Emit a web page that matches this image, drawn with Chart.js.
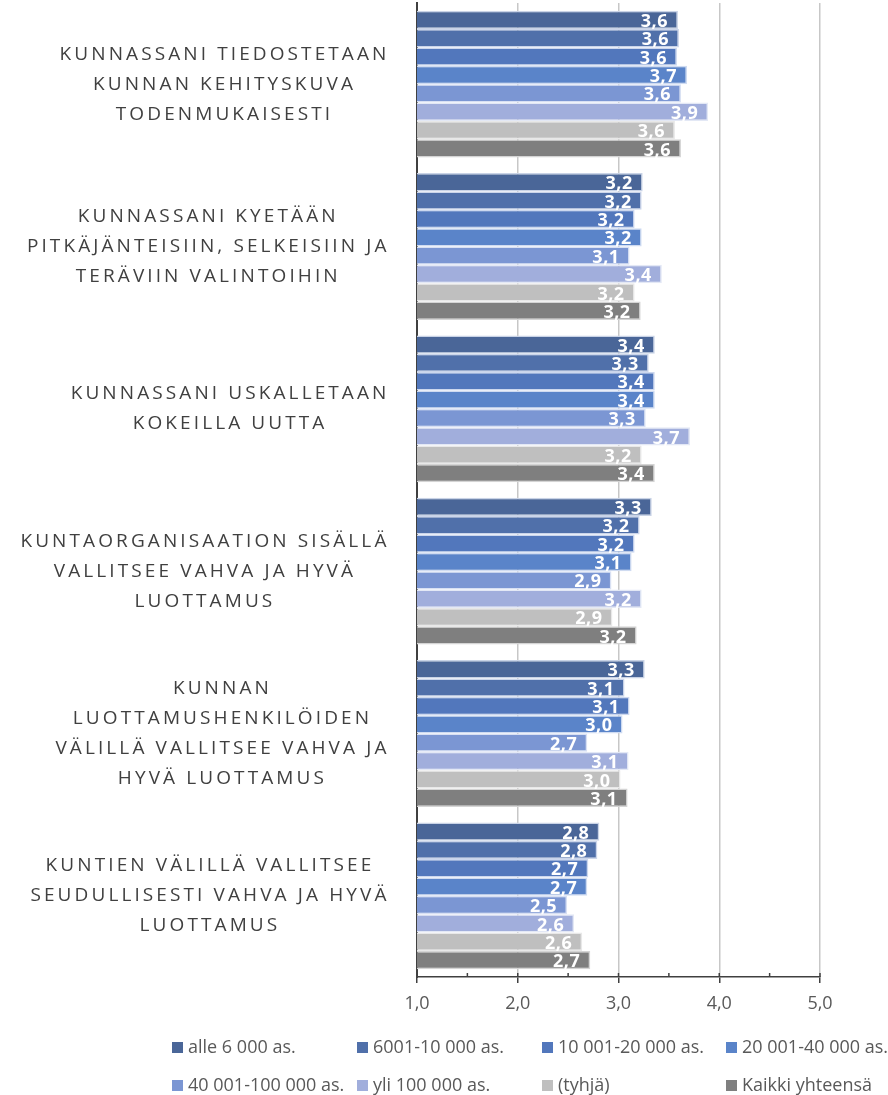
<!DOCTYPE html>
<html>
<head>
<meta charset="utf-8">
<script src="https://cdn.jsdelivr.net/npm/chart.js@4.4.1/dist/chart.umd.min.js"></script>
<style>
  html, body { margin: 0; padding: 0; background: #ffffff; }
  #wrap { width: 888px; height: 1095px; position: relative; }
</style>
</head>
<body>
<div id="wrap"><canvas id="barChart"></canvas></div>
<script>
// --- dados ---
const categorias = [
    ['KUNNASSANI TIEDOSTETAAN', 'KUNNAN KEHITYSKUVA', 'TODENMUKAISESTI'],
    ['KUNNASSANI KYETÄÄN', 'PITKÄJÄNTEISIIN, SELKEISIIN JA', 'TERÄVIIN VALINTOIHIN'],
    ['KUNNASSANI USKALLETAAN', 'KOKEILLA UUTTA'],
    ['KUNTAORGANISAATION SISÄLLÄ', 'VALLITSEE VAHVA JA HYVÄ', 'LUOTTAMUS'],
    ['KUNNAN', 'LUOTTAMUSHENKILÖIDEN', 'VÄLILLÄ VALLITSEE VAHVA JA', 'HYVÄ LUOTTAMUS'],
    ['KUNTIEN VÄLILLÄ VALLITSEE', 'SEUDULLISESTI VAHVA JA HYVÄ', 'LUOTTAMUS']
];

const nomesSeries = ['alle 6 000 as.', '6001-10 000 as.', '10 001-20 000 as.', '20 001-40 000 as.',
                     '40 001-100 000 as.', 'yli 100 000 as.', '(tyhjä)', 'Kaikki yhteensä'];

const alle6000   = [3.59, 3.24, 3.36, 3.33, 3.26, 2.81];
const v6001      = [3.60, 3.23, 3.30, 3.21, 3.06, 2.79];
const v10001     = [3.58, 3.16, 3.36, 3.16, 3.11, 2.70];
const v20001     = [3.68, 3.23, 3.36, 3.13, 3.04, 2.69];
const v40001     = [3.62, 3.11, 3.27, 2.93, 2.69, 2.49];
const yli100000  = [3.89, 3.43, 3.71, 3.23, 3.10, 2.56];
const tyhja      = [3.56, 3.16, 3.23, 2.94, 3.02, 2.64];
const kaikki     = [3.62, 3.22, 3.36, 3.18, 3.09, 2.72];

const tickValores = [1, 2, 3, 4, 5];

const cores = ['#4A6698', '#5070AA', '#5277BC', '#5A84C9', '#7B96D3', '#A1AEDC', '#BFBFBF', '#7F7F7F'];
const bordas = ['#C9D3E6', '#CBD5EA', '#CCD7EE', '#CFDBF1', '#D8E0F3', '#E3E8F5', '#E8E8E8', '#D4D4D4'];

const todasSeries = [alle6000, v6001, v10001, v20001, v40001, yli100000, tyhja, kaikki];

const fmt = v => v.toFixed(1).replace('.', ',');

// rótulos brancos dentro das barras
const rotulosBarras = {
    id: 'rotulosBarras',
    afterDatasetsDraw(chart) {
        const ctx = chart.ctx;
        ctx.save();
        ctx.font = 'bold 18px "Open Sans"';
        ctx.letterSpacing = '0.5px';
        ctx.fillStyle = '#ffffff';
        ctx.textAlign = 'right';
        ctx.textBaseline = 'middle';
        chart.data.datasets.forEach((ds, i) => {
            chart.getDatasetMeta(i).data.forEach((bar, j) => {
                ctx.fillText(fmt(ds.data[j]), bar.x - 10, bar.y + 2);
            });
        });
        ctx.restore();
    }
};

// rótulos das categorias com espaçamento entre letras
const rotulosCategorias = {
    id: 'rotulosCategorias',
    afterDraw(chart) {
        const ctx = chart.ctx;
        const y = chart.scales.y;
        ctx.save();
        ctx.font = '19px "Open Sans"';
        ctx.letterSpacing = '3.1px';
        ctx.fillStyle = '#404040';
        ctx.textAlign = 'center';
        ctx.textBaseline = 'middle';
        categorias.forEach((linhas, i) => {
            const cy = y.getPixelForValue(i);
            const maxW = Math.max(...linhas.map(l => ctx.measureText(l).width));
            const cx = 388 - maxW / 2;
            const alturaLinha = 30;
            const y0 = cy - (linhas.length - 1) * alturaLinha / 2;
            linhas.forEach((l, k) => ctx.fillText(l, cx + 1.5, y0 + k * alturaLinha));
        });
        ctx.restore();
    }
};

// marcas menores no eixo X
const marcasMenores = {
    id: 'marcasMenores',
    afterDraw(chart) {
        const ctx = chart.ctx;
        const x = chart.scales.x;
        const base = chart.chartArea.bottom;
        ctx.save();
        ctx.strokeStyle = '#404040';
        ctx.lineWidth = 1.5;
        for (let v = 1; v <= 5; v += 0.5) {
            const px = x.getPixelForValue(v);
            ctx.beginPath();
            ctx.moveTo(px, base - 4);
            ctx.lineTo(px, base);
            ctx.stroke();
        }
        ctx.restore();
    }
};

// legenda em grade de 4 colunas
const legendaGrade = {
    id: 'legendaGrade',
    afterDraw(chart) {
        const ctx = chart.ctx;
        const colunas = [172, 357, 542, 726];
        const linhasY = [1047, 1085];
        ctx.save();
        ctx.font = '18px "Open Sans"';
        ctx.textBaseline = 'middle';
        ctx.textAlign = 'left';
        chart.data.datasets.forEach((ds, i) => {
            const cx = colunas[i % 4];
            const cy = linhasY[Math.floor(i / 4)];
            ctx.fillStyle = ds.backgroundColor;
            ctx.fillRect(cx, cy - 5, 11, 11);
            ctx.fillStyle = '#595959';
            ctx.fillText(ds.label, cx + 16, cy + 1);
        });
        ctx.restore();
    }
};

document.addEventListener("DOMContentLoaded", function() {
    const ctxBar = document.getElementById('barChart').getContext('2d');
    new Chart(ctxBar, {
        type: 'bar',
        data: {
            labels: categorias.map(c => c.join(' ')),
            datasets: todasSeries.map((serie, i) => ({
                label: nomesSeries[i],
                data: serie,
                backgroundColor: cores[i],
                borderColor: bordas[i],
                borderWidth: 1.5,
                borderSkipped: 'start',
                categoryPercentage: 0.905,
                barPercentage: 1.0
            }))
        },
        options: {
            indexAxis: 'y',
            responsive: true,
            maintainAspectRatio: false,
            animation: false,
            layout: { padding: { top: 3, right: 68, bottom: 78, left: 0 } },
            plugins: { legend: { display: false }, tooltip: { enabled: false } },
            scales: {
                x: {
                    min: 1, max: 5, z: 1,
                    afterBuildTicks: s => { s.ticks = tickValores.map(v => ({ value: v })); },
                    afterFit: s => { s.height = 40; },
                    grid: { color: 'rgba(0,0,0,0.22)', lineWidth: 1.5, tickLength: 6, tickColor: '#404040', drawTicks: true },
                    border: { display: true, color: '#404040', width: 1.5 },
                    ticks: { padding: 10, color: '#595959', font: { family: '"Open Sans"', size: 18 }, callback: v => fmt(v) }
                },
                y: {
                    afterFit: s => { s.width = 417; },
                    grid: { display: false },
                    border: { display: true, color: '#404040', width: 2 },
                    ticks: { display: false }
                }
            }
        },
        plugins: [rotulosBarras, rotulosCategorias, marcasMenores, legendaGrade]
    });
});
</script>
</body>
</html>
